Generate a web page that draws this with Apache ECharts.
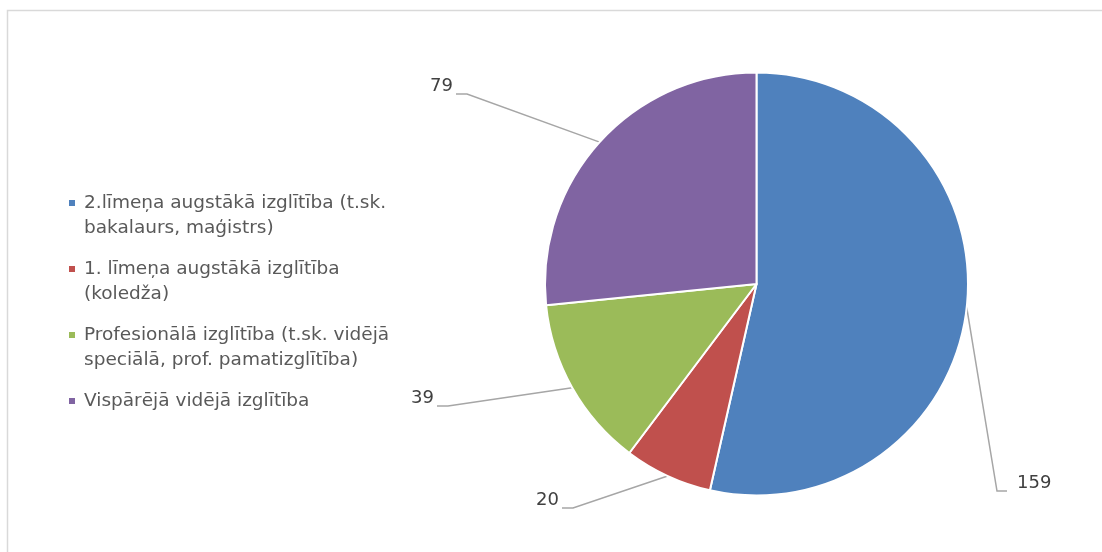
<!DOCTYPE html>
<html>
<head>
<meta charset="utf-8">
<script src="https://cdn.jsdelivr.net/npm/echarts@6/dist/echarts.min.js"></script>
<style>
html,body{margin:0;padding:0;background:#fff;}
#chart{width:1102px;height:552px;}
</style>
</head>
<body>
<div id="chart"></div>
<script>
// ---- data ----
const categories = [
  "2.līmeņa augstākā izglītība (t.sk. bakalaurs, maģistrs)",
  "1. līmeņa augstākā izglītība (koledža)",
  "Profesionālā izglītība (t.sk. vidējā speciālā, prof. pamatizglītība)",
  "Vispārējā vidējā izglītība"
];
const legendLines = [
  ["2.līmeņa augstākā izglītība (t.sk.", "bakalaurs, maģistrs)"],
  ["1. līmeņa augstākā izglītība", "(koledža)"],
  ["Profesionālā izglītība (t.sk. vidējā", "speciālā, prof. pamatizglītība)"],
  ["Vispārējā vidējā izglītība", " "]
];
const values = [159, 20, 39, 79];

// ---- styles ----
const colors = ["#4f81bd", "#c0504d", "#9bbb59", "#8064a2"];
const labelSpots = [ // label anchor positions (layout only)
  {x: 1017, y: 483, align: "left"},
  {x: 559, y: 500, align: "right"},
  {x: 434, y: 398, align: "right"},
  {x: 453, y: 86, align: "right"}
];
const FONT = "'DejaVu Sans', sans-serif";

const chart = echarts.init(document.getElementById("chart"), null, {renderer: "canvas"});
chart.setOption({
  animation: false,
  color: colors,
  graphic: [{
    type: "rect", x: 0, y: 0, silent: true,
    shape: {x: 7.5, y: 10.5, width: 1200, height: 700},
    style: {fill: "none", stroke: "#d9d9d9", lineWidth: 1.5}
  }],
  legend: {
    orient: "vertical",
    left: 67,
    top: 165.5,
    padding: 0,
    itemWidth: 8,
    itemHeight: 8,
    itemGap: -9,
    icon: "rect",
    data: categories,
    formatter: function (name) {
      const l = legendLines[categories.indexOf(name)];
      return " \n" + l.join("\n");
    },
    textStyle: {
      fontFamily: FONT, fontSize: 18.5, color: "#595959", lineHeight: 25,
      padding: [0, 0, 0, 3]
    }
  },
  series: [{
    type: "pie",
    center: [756.5, 284],
    radius: 211.5,
    startAngle: 90,
    clockwise: true,
    avoidLabelOverlap: false,
    itemStyle: {borderColor: "#fff", borderWidth: 2},
    label: {
      show: true, position: "outside", formatter: "{c}",
      fontFamily: FONT, fontSize: 18, color: "#404040"
    },
    labelLine: {show: true, length: 20, length2: 11, lineStyle: {color: "#a6a6a6", width: 1.5}},
    labelLayout: function (p) {
      const s = labelSpots[p.dataIndex];
      const out = {x: s.x, y: s.y, align: s.align, verticalAlign: "middle"};
      if (p.labelLinePoints && p.labelLinePoints[0]) {
        const start = p.labelLinePoints[0];
        const left = s.align === "left";
        const endX = left ? s.x - 10 : s.x + 3;
        const endY = s.y + 8;
        const bendX = left ? endX - 10 : endX + 11;
        out.labelLinePoints = [[start[0], start[1]], [bendX, endY], [endX, endY]];
      }
      return out;
    },
    emphasis: {disabled: true},
    data: categories.map((c, i) => ({name: c, value: values[i]}))
  }]
});
</script>
</body>
</html>
